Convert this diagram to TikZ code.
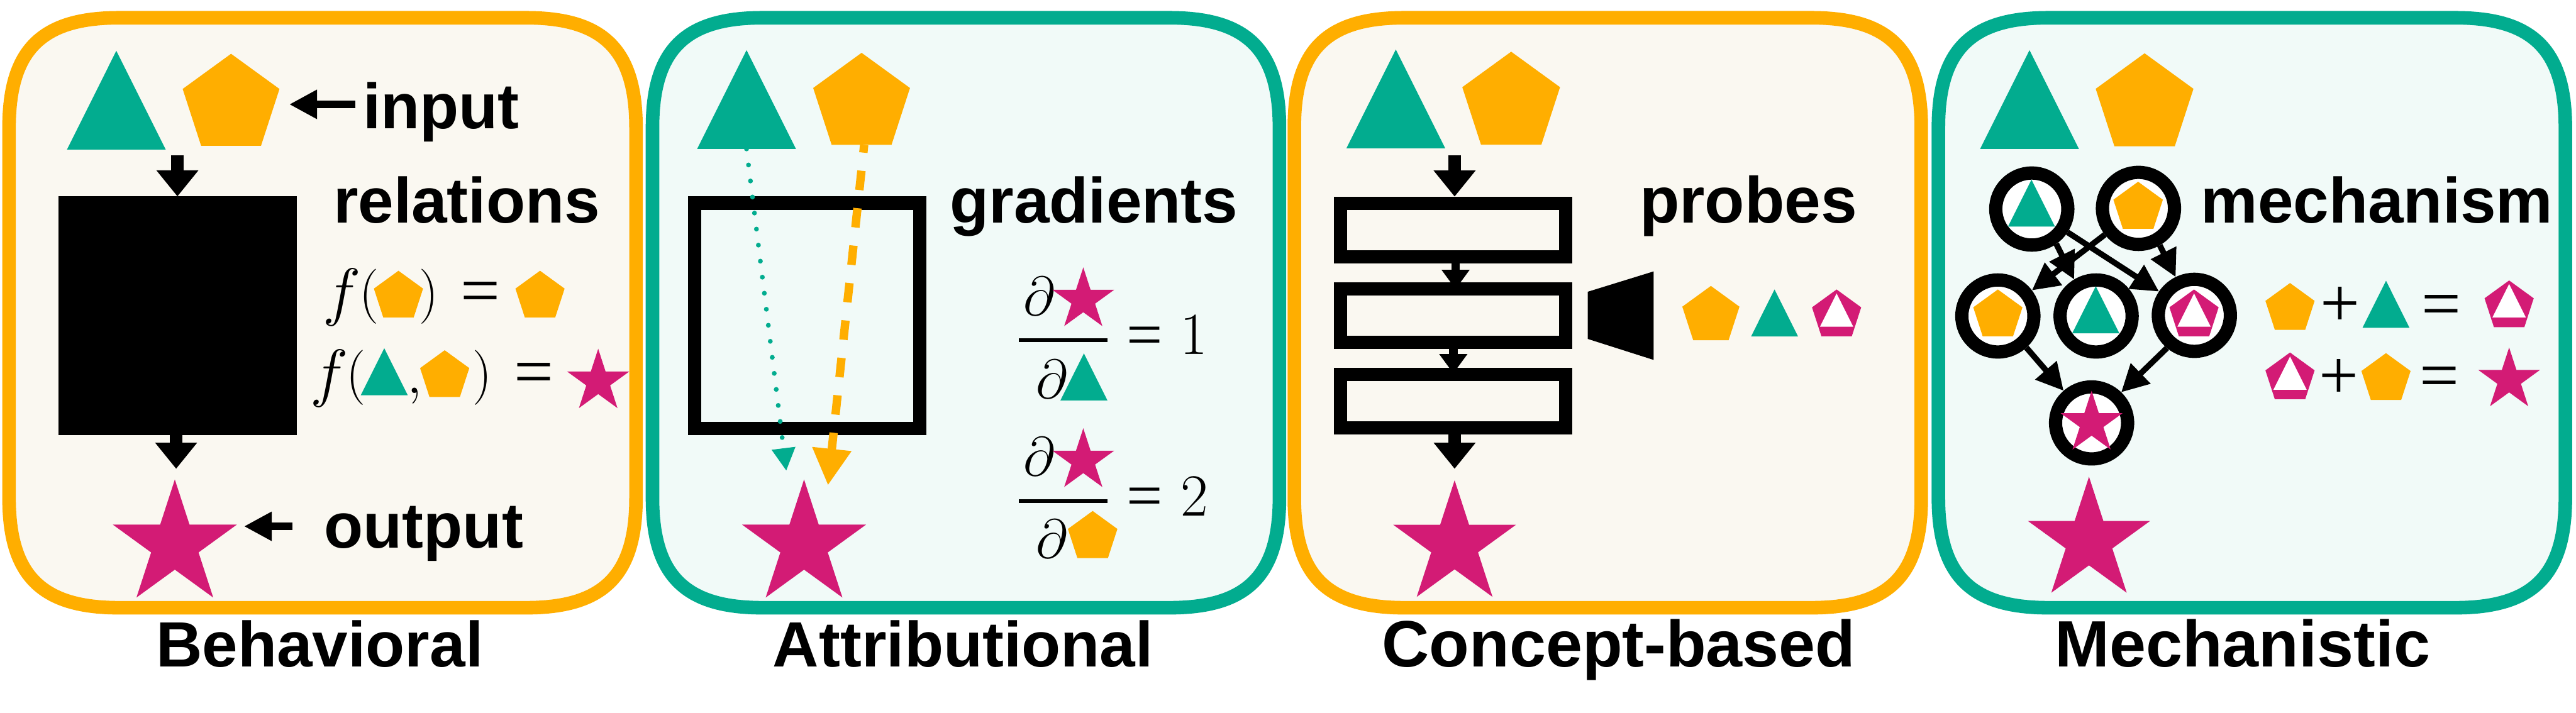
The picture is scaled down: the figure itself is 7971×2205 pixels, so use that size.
\documentclass[tikz,border=0pt]{standalone}
\usepackage{fontspec}
\usepackage{amssymb}
\usepackage{tikz}
\usetikzlibrary{arrows.meta,shapes.geometric}
\newfontfamily\labelfamily{Liberation Sans}
\newfontfamily\opfamily{Liberation Serif}
\definecolor{orangec}{HTML}{FFAE00}
\definecolor{tealc}{HTML}{02AC8F}
\definecolor{magentac}{HTML}{D31B75}
\definecolor{creamc}{HTML}{FAF8F1}
\definecolor{mintc}{HTML}{F1FAF8}
\tikzset{
	panel/.pic={
		\path [pic actions] (0,340) .. controls (0,100) and (100,0) .. (340,0) -- (1600,0)
			.. controls (1840,0) and (1940,100) .. (1940,340) -- (1940,1486)
			.. controls (1940,1726) and (1840,1826) .. (1600,1826) -- (340,1826)
			.. controls (100,1826) and (0,1726) .. (0,1486) -- cycle;
	},
	tri/.style={regular polygon, regular polygon sides=3, fill=tealc, inner sep=0pt, outer sep=0pt, minimum size=#1, yscale=1.155},
	tri/.default=35.3pt,
	pent/.style={regular polygon, regular polygon sides=5, fill=orangec, inner sep=0pt, outer sep=0pt, minimum size=#1},
	pent/.default=31.5pt,
	starn/.style={star, star points=5, star point ratio=2.618, fill=magentac, inner sep=0pt, outer sep=0pt, minimum size=#1},
	starn/.default=40.4pt,
	frame/.style={draw, rectangle, line width=4.1pt, minimum width=69.7pt},
	ring/.style={draw, circle, fill=white, line width=4.1pt, minimum size=22.3pt},
	lab/.style={font=\fontsize{19.8}{20}\labelfamily\bfseries, anchor=base, inner sep=0pt},
	eqa/.style={font=\huge, scale=0.96, anchor=base, inner sep=0pt},
	eqb/.style={font=\huge, scale=0.892, anchor=base, inner sep=0pt},
	eqc/.style={font=\huge, scale=0.82, anchor=base, inner sep=0pt},
	opa/.style={font=\fontsize{21.7}{22}\opfamily, anchor=base, inner sep=0pt},
	opb/.style={font=\fontsize{19.8}{20}\opfamily, anchor=base, inner sep=0pt},
	bigarrow/.style={-{Triangle[length=8.1pt,width=12.5pt]}, line width=4pt},
	smallarrow/.style={-{Triangle[length=6pt,width=8.3pt]}, line width=2.7pt},
	sidearrow/.style={-{Triangle[length=8.6pt,width=8.5pt]}, line width=2.3pt},
	linkarrow/.style={-{Triangle[length=8.4pt,width=8.4pt]}, line width=1.8pt},
	dotarrow/.style={-{Triangle[length=7pt,width=7pt]}, tealc, line width=1.5pt, line cap=round, dash pattern=on 0pt off 5pt},
	dasharrow/.style={-{Triangle[length=11.3pt,width=11.5pt]}, orangec, line width=2.6pt, dash pattern=on 6pt off 5.65pt, dash phase=3.6pt},
	bar/.style={line width=1.1pt}
}
\begin{document}
\begin{tikzpicture}[x=0.1pt,y=-0.1pt]
	\useasboundingbox (0,0) rectangle (7971,2205);

	\pic (behav) [draw=orangec, fill=creamc, line width=4.2pt] at (28,55) {panel};
	\pic (attr) [draw=tealc, fill=mintc, line width=4.2pt] at (2019,55) {panel};
	\pic (conc) [draw=orangec, fill=creamc, line width=4.2pt] at (4005,55) {panel};
	\pic (mech) [draw=tealc, fill=mintc, line width=4.2pt] at (5998,55) {panel};

	\node (tri1) [tri] at (360,361) {};
	\node (pen1) [pent] at (715,324) {};
	\node (box1) [fill=black, inner sep=0pt, outer sep=0pt, minimum size=73.8pt] at (549,977) {};
	\node (star1) [starn] at (541,1686) {};
	\node (input) [lab] at (1365,397) {input};
	\node (relations) [lab] at (1444,689) {relations};
	\node (output) [lab] at (1311,1695) {output};
	\node (title1) [lab] at (989,2063) {Behavioral};
	\coordinate (in1) at (549,480);
	\coordinate (out1) at (545,1451);
	\coordinate (inputend) at (1100,323);
	\coordinate (inputtip) at (895,323);
	\coordinate (outputend) at (904,1629);
	\coordinate (outputtip) at (755,1629);
	\path (in1) edge [bigarrow] (box1.north);
	\path (box1.south -| out1) edge [bigarrow] (out1);
	\path (inputend) edge [sidearrow] (inputtip);
	\path (outputend) edge [sidearrow] (outputtip);

	\node (fa) [eqa, anchor=base west] at (998,970) {$f$};
	\node (oa) [eqc] at (1142,960) {$($};
	\node (pa) [pent=16pt] at (1233,918) {};
	\node (ca) [eqc] at (1328,960) {$)$};
	\node (ea) [opa] at (1487,972) {=};
	\node (pb) [pent=16pt] at (1671,918) {};
	\node (fb) [eqa, anchor=base west] at (958,1221) {$f$};
	\node (ob) [eqc] at (1102,1212) {$($};
	\node (ta) [tri=16.8pt] at (1189,1175) {};
	\node (co) [eqc] at (1283,1217) {$,$};
	\node (pc) [pent=16pt] at (1376,1164) {};
	\node (cb) [eqc] at (1493,1212) {$)$};
	\node (eb) [opa] at (1653,1223) {=};
	\node (sa) [starn=20.3pt] at (1851,1181) {};

	\node (tri2) [tri] at (2310,359) {};
	\node (pen2) [pent] at (2666,321) {};
	\node (box2) [frame, minimum height=69.7pt] at (2498,977) {};
	\node (star2) [starn] at (2488,1686) {};
	\node (gradients) [lab] at (3385,689) {gradients};
	\node (title2) [lab] at (2980,2063) {Attributional};
	\coordinate (dottip) at (2433,1457);
	\coordinate (dashtip) at (2562,1502);
	\path (tri2.south) edge [dotarrow] (dottip);
	\path ([xshift=0.8pt]pen2.south) edge [dasharrow] (dashtip);

	\node (da) [eqc] at (3215,975) {$\partial$};
	\node (sb) [starn=20.1pt] at (3352,928) {};
	\coordinate (barla) at (3153,1053);
	\coordinate (barra) at (3426,1053);
	\path (barla) edge [bar] (barra);
	\node (db) [eqc] at (3254,1233) {$\partial$};
	\node (tb) [tri=16.8pt] at (3354,1191) {};
	\node (ec) [opb] at (3543,1103) {=};
	\node (one) [eqb] at (3695,1097) {$1$};
	\node (dc) [eqc] at (3215,1472) {$\partial$};
	\node (sc) [starn=20.1pt] at (3352,1426) {};
	\coordinate (barlb) at (3153,1551);
	\coordinate (barrb) at (3426,1551);
	\path (barlb) edge [bar] (barrb);
	\node (dd) [eqc] at (3254,1728) {$\partial$};
	\node (pd) [pent=16.1pt] at (3381,1662) {};
	\node (ed) [opb] at (3543,1601) {=};
	\node (two) [eqb] at (3696,1596) {$2$};

	\node (tri3) [tri] at (4319,357) {};
	\node (pen3) [pent=31.8pt] at (4676,319) {};
	\node (rect1) [frame, minimum height=16.6pt] at (4497,712) {};
	\node (rect2) [frame, minimum height=16.6pt] at (4497,977) {};
	\node (rect3) [frame, minimum height=16.6pt] at (4497,1242) {};
	\node (star3) [starn=39.9pt] at (4501,1686) {};
	\node (probes) [lab, scale=1.02] at (5410,689) {probes};
	\node (title3) [lab, scale=1.025] at (5009,2063) {Concept-based};
	\coordinate (in3) at (4501,480);
	\coordinate (tipa) at (4504,895);
	\coordinate (tipb) at (4497,1156);
	\coordinate (out3) at (4501,1451);
	\path (in3) edge [bigarrow] (in3 |- rect1.north);
	\path (rect1.south -| tipa) edge [smallarrow] (tipa);
	\path (rect2.south -| tipb) edge [smallarrow] (tipb);
	\path (rect3.south -| out3) edge [bigarrow] (out3);
	\fill (4913,903) -- (5117,840) -- (5117,1114) -- (4913,1049) -- cycle;
	\node (pe) [pent=18.6pt] at (5294,978) {};
	\node (tc) [tri=16.8pt] at (5491,993) {};
	\node (ma) [pent=16pt, fill=magentac] at (5683,976) {};
	\node (wa) [tri=11.9pt, fill=white] at (5683,977) {};

	\node (tri4) [tri] at (6280,359) {};
	\node (pen4) [pent=31.8pt] at (6636,324) {};
	\node (star4) [starn=39.7pt] at (6464,1674) {};
	\node (mechanism) [lab] at (7355,689) {mechanism};
	\node (title4) [lab, scale=1.025] at (6939,2063) {Mechanistic};

	\node (ca1) [ring] at (6287,647) {};
	\node (ca2) [ring] at (6617,645) {};
	\node (cb1) [ring] at (6182,978) {};
	\node (cb2) [ring] at (6486,978) {};
	\node (cb3) [ring] at (6790,976) {};
	\node (cc) [ring] at (6472,1309) {};
	\node (td) [tri=16.8pt] at (6286,653) {};
	\node (pf) [pent=16.1pt] at (6616,643) {};
	\node (pg) [pent=16pt] at (6182,976) {};
	\node (te) [tri=16.8pt] at (6485,983) {};
	\node (mb) [pent=16pt, fill=magentac] at (6789,976) {};
	\node (wb) [tri=11.9pt, fill=white] at (6789,977) {};
	\node (sd) [starn=20.1pt] at (6472,1310) {};
	\path (ca1.-55.7) edge [linkarrow] (cb2.121);
	\path (ca1.-33) edge [linkarrow] (cb3.146);
	\path (ca2.218) edge [linkarrow] (cb1.37.7);
	\path (ca2.-60.7) edge [linkarrow] (cb3.116.7);
	\path (cb1.-48.7) edge [linkarrow] (cc.131);
	\path (cb3.-130.7) edge [linkarrow] (cc.46.8);

	\node (ph) [pent=16pt] at (7086,956) {};
	\node (plusa) [opa] at (7242,1011) {+};
	\node (tf) [tri=16.8pt] at (7383,966) {};
	\node (ee) [opa] at (7554,1013) {=};
	\node (mc) [pent=16pt, fill=magentac] at (7764,948) {};
	\node (wc) [tri=11.9pt, fill=white] at (7764,948) {};
	\node (md) [pent=16pt, fill=magentac] at (7086,1171) {};
	\node (wd) [tri=11.9pt, fill=white] at (7086,1172) {};
	\node (plusb) [opa] at (7237,1235) {+};
	\node (pi) [pent=16pt] at (7383,1173) {};
	\node (ef) [opa] at (7549,1235) {=};
	\node (se) [starn=20.1pt] at (7764,1176) {};
\end{tikzpicture}
\end{document}
